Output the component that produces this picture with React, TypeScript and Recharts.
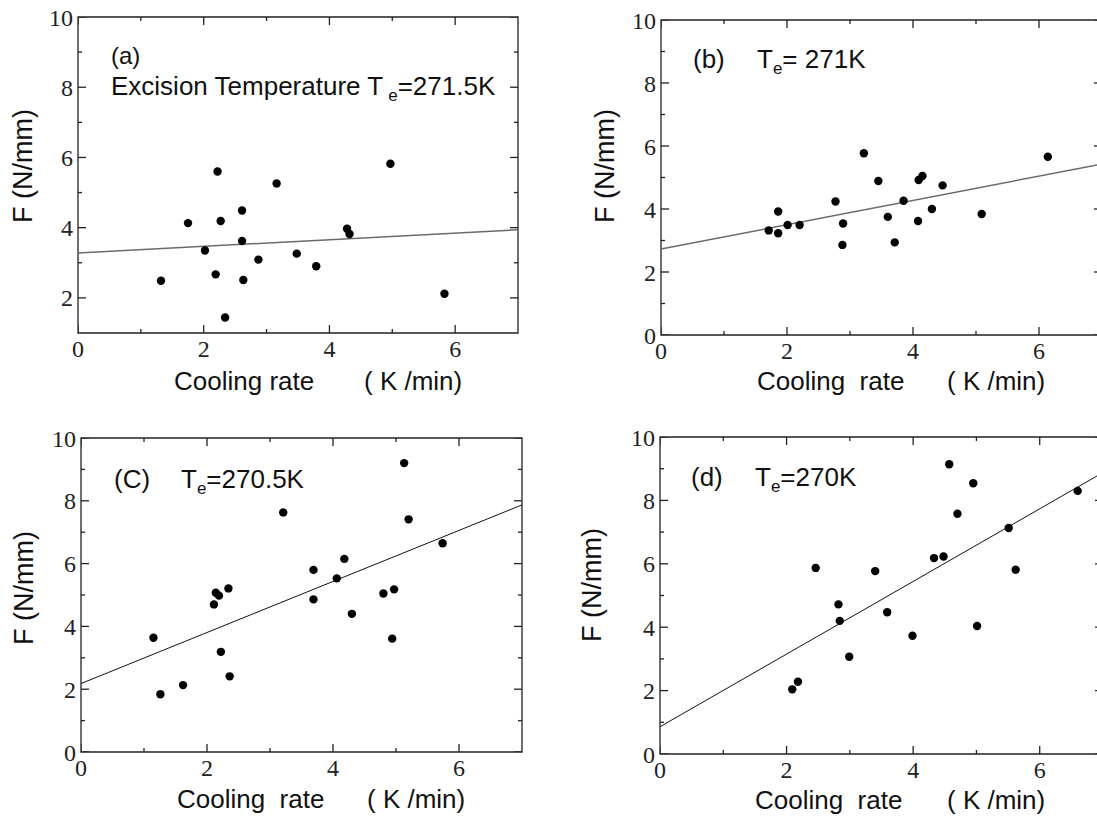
import React from 'react';
import { ScatterChart, Scatter, XAxis, YAxis, ReferenceArea } from 'recharts';

// ---------- data ----------
const xMajor = [0, 2, 4, 6];
const xMinor = [1, 3, 5];
const yMajorA = [2, 4, 6, 8, 10];
const yMajor = [0, 2, 4, 6, 8, 10];
const yMinor = [1, 3, 5, 7, 9];

const pointsA = [
  { x: 1.32, y: 2.49 }, { x: 1.75, y: 4.13 }, { x: 2.02, y: 3.35 }, { x: 2.19, y: 2.67 },
  { x: 2.22, y: 5.6 }, { x: 2.27, y: 4.19 }, { x: 2.34, y: 1.44 }, { x: 2.61, y: 4.49 },
  { x: 2.61, y: 3.62 }, { x: 2.63, y: 2.51 }, { x: 2.87, y: 3.09 }, { x: 3.16, y: 5.26 },
  { x: 3.48, y: 3.26 }, { x: 3.79, y: 2.9 }, { x: 4.28, y: 3.97 }, { x: 4.32, y: 3.82 },
  { x: 4.97, y: 5.82 }, { x: 5.83, y: 2.12 },
];
const fitA = [{ x: 0, y: 3.28 }, { x: 7, y: 3.94 }];

const pointsB = [
  { x: 1.71, y: 3.32 }, { x: 1.86, y: 3.92 }, { x: 1.86, y: 3.23 }, { x: 2.01, y: 3.49 },
  { x: 2.2, y: 3.49 }, { x: 2.77, y: 4.24 }, { x: 2.88, y: 2.86 }, { x: 2.89, y: 3.54 },
  { x: 3.22, y: 5.77 }, { x: 3.45, y: 4.89 }, { x: 3.6, y: 3.75 }, { x: 3.71, y: 2.94 },
  { x: 3.85, y: 4.26 }, { x: 4.08, y: 3.62 }, { x: 4.09, y: 4.92 }, { x: 4.15, y: 5.05 },
  { x: 4.3, y: 4.0 }, { x: 4.47, y: 4.75 }, { x: 5.09, y: 3.84 }, { x: 6.14, y: 5.66 },
];
const fitB = [{ x: 0, y: 2.73 }, { x: 7, y: 5.43 }];

const pointsC = [
  { x: 1.15, y: 3.64 }, { x: 1.26, y: 1.84 }, { x: 1.62, y: 2.13 }, { x: 2.11, y: 4.7 },
  { x: 2.14, y: 5.07 }, { x: 2.19, y: 4.98 }, { x: 2.22, y: 3.19 }, { x: 2.34, y: 5.21 },
  { x: 2.36, y: 2.41 }, { x: 3.21, y: 7.63 }, { x: 3.69, y: 5.8 }, { x: 3.69, y: 4.86 },
  { x: 4.06, y: 5.53 }, { x: 4.18, y: 6.15 }, { x: 4.3, y: 4.4 }, { x: 4.8, y: 5.05 },
  { x: 4.94, y: 3.61 }, { x: 4.97, y: 5.18 }, { x: 5.13, y: 9.2 }, { x: 5.2, y: 7.41 },
  { x: 5.74, y: 6.65 },
];
const fitC = [{ x: 0, y: 2.18 }, { x: 7, y: 7.87 }];

const pointsD = [
  { x: 2.09, y: 2.04 }, { x: 2.18, y: 2.28 }, { x: 2.46, y: 5.87 }, { x: 2.82, y: 4.72 },
  { x: 2.84, y: 4.2 }, { x: 2.99, y: 3.07 }, { x: 3.4, y: 5.77 }, { x: 3.59, y: 4.47 },
  { x: 3.99, y: 3.73 }, { x: 4.33, y: 6.18 }, { x: 4.48, y: 6.23 }, { x: 4.57, y: 9.14 },
  { x: 4.7, y: 7.58 }, { x: 4.95, y: 8.54 }, { x: 5.01, y: 4.04 }, { x: 5.51, y: 7.13 },
  { x: 5.62, y: 5.81 }, { x: 6.6, y: 8.3 },
];
const fitD = [{ x: 0, y: 0.86 }, { x: 7, y: 8.88 }];

// ---------- styles ----------
const FRAME = '#222';
const SERIF = '"Liberation Serif", "Times New Roman", serif';
const SANS = '"Liberation Sans", Arial, sans-serif';
const TITLE_FONT = 26;
const NOTE_FONT = 26;
const tickText = { fontFamily: SERIF, fontSize: 24, fill: '#222' };
const MAJOR_PX = 8;
const MINOR_PX = 4;
const X_MAX = 7;
const Y_MAX = 10;

const Dot = (props: any) => <circle cx={props.cx} cy={props.cy} r={4.2} fill="#000" />;
const NoShape = () => <g />;

// inward tick mark drawn at an axis position given by the chart's scales
const makeTickShape = (dx: number, dy: number) => (props: any) => {
  const len = (props.payload && props.payload.len) || MAJOR_PX;
  const { cx, cy } = props;
  if (cx == null || cy == null) return <g />;
  return (
    <line x1={cx} y1={cy} x2={cx + dx * len} y2={cy + dy * len} stroke={FRAME} strokeWidth={1.3} />
  );
};
const tickUp = makeTickShape(0, -1);
const tickDown = makeTickShape(0, 1);
const tickRight = makeTickShape(1, 0);
const tickLeft = makeTickShape(-1, 0);

type PanelProps = {
  plotL: number; plotT: number; w: number; h: number;
  points: { x: number; y: number }[];
  fit: { x: number; y: number }[];
  yMin: number; yMajorList: number[];
  lineColor: string; lineWidth: number;
};

const AX_W = 80;
const AX_H = 80;
const PAD = 20;

function Panel(p: PanelProps) {
  const width = AX_W + p.w + PAD;
  const height = PAD + p.h + AX_H;
  const yMinorList = yMinor.filter((v) => v > p.yMin);
  const xSpecs = [
    ...xMajor.map((t) => ({ t, len: MAJOR_PX })),
    ...xMinor.map((t) => ({ t, len: MINOR_PX })),
  ];
  const ySpecs = [
    ...p.yMajorList.map((t) => ({ t, len: MAJOR_PX })),
    ...yMinorList.map((t) => ({ t, len: MINOR_PX })),
  ];
  const bottomTicks = xSpecs.map(({ t, len }) => ({ x: t, y: p.yMin, len }));
  const topTicks = xSpecs.map(({ t, len }) => ({ x: t, y: Y_MAX, len }));
  const leftTicks = ySpecs.map(({ t, len }) => ({ x: 0, y: t, len }));
  const rightTicks = ySpecs.map(({ t, len }) => ({ x: X_MAX, y: t, len }));
  return (
    <div style={{ position: 'absolute', left: p.plotL - AX_W, top: p.plotT - PAD, width, height }}>
      <ScatterChart width={width} height={height} margin={{ top: PAD, right: PAD, bottom: 0, left: 0 }}>
        <XAxis
          type="number" dataKey="x" domain={[0, X_MAX]} ticks={xMajor} interval={0}
          height={AX_H} tickSize={0} tickMargin={7} tickLine={false} axisLine={false}
          tick={tickText} allowDataOverflow
        />
        <YAxis
          type="number" dataKey="y" domain={[p.yMin, Y_MAX]} ticks={p.yMajorList} interval={0}
          width={AX_W} tickSize={0} tickMargin={5} tickLine={false} axisLine={false}
          tick={tickText} allowDataOverflow
        />
        <ReferenceArea x1={0} x2={X_MAX} y1={p.yMin} y2={Y_MAX} fill="none" fillOpacity={0}
          stroke={FRAME} strokeWidth={1.3} ifOverflow="visible" />
        <Scatter data={bottomTicks} shape={tickUp} isAnimationActive={false} />
        <Scatter data={topTicks} shape={tickDown} isAnimationActive={false} />
        <Scatter data={leftTicks} shape={tickRight} isAnimationActive={false} />
        <Scatter data={rightTicks} shape={tickLeft} isAnimationActive={false} />
        <Scatter data={p.fit} line={{ stroke: p.lineColor, strokeWidth: p.lineWidth }}
          shape={NoShape} isAnimationActive={false} />
        <Scatter data={p.points} shape={Dot} isAnimationActive={false} />
      </ScatterChart>
    </div>
  );
}

const textStyle: React.CSSProperties = { whiteSpace: 'pre' };

function XTitle({ x1, x2, y, gap2 }: { x1: number; x2: number; y: number; gap2?: boolean }) {
  return (
    <g>
      <text x={x1} y={y} fontFamily={SANS} fontSize={TITLE_FONT} fill="#111" style={textStyle}>
        {gap2 ? 'Cooling  rate' : 'Cooling rate'}
      </text>
      <text x={x2} y={y} fontFamily={SANS} fontSize={TITLE_FONT} fill="#111" style={textStyle}>
        ( K /min)
      </text>
    </g>
  );
}

function YTitle({ cx, cy }: { cx: number; cy: number }) {
  return (
    <text
      x={cx} y={cy} fontFamily={SANS} fontSize={27} fill="#111"
      textAnchor="middle" dominantBaseline="central"
      transform={`rotate(-90 ${cx} ${cy})`}
    >
      F (N/mm)
    </text>
  );
}

export default function App() {
  return (
    <div style={{ position: 'fixed', left: 0, top: 0, width: 1097, height: 819, overflow: 'hidden', background: '#fff' }}>
      <Panel plotL={78} plotT={17} w={440} h={316} points={pointsA} fit={fitA} yMin={1} yMajorList={yMajorA} lineColor="#6a6a6a" lineWidth={1.5} />
      <Panel plotL={661} plotT={20} w={441} h={315} points={pointsB} fit={fitB} yMin={0} yMajorList={yMajor} lineColor="#6a6a6a" lineWidth={1.5} />
      <Panel plotL={81} plotT={438} w={441} h={314} points={pointsC} fit={fitC} yMin={0} yMajorList={yMajor} lineColor="#111" lineWidth={1} />
      <Panel plotL={660} plotT={437} w={443} h={317} points={pointsD} fit={fitD} yMin={0} yMajorList={yMajor} lineColor="#111" lineWidth={1} />

      <svg width={1097} height={819} style={{ position: 'absolute', left: 0, top: 0, pointerEvents: 'none' }}>
        {/* panel a */}
        <text x={111} y={64} fontFamily={SANS} fontSize={24} fill="#111">(a)</text>
        <text x={111} y={95} fontFamily={SANS} fontSize={NOTE_FONT} fill="#111" style={textStyle}>
          Excision Temperature T
          <tspan dx={5} dy={6} fontSize={17}>e</tspan>
          <tspan dy={-6}>=271.5K</tspan>
        </text>
        <YTitle cx={23} cy={166} />
        <XTitle x1={174} x2={364} y={390} />

        {/* panel b */}
        <text x={693} y={68} fontFamily={SANS} fontSize={NOTE_FONT} fill="#111">(b)</text>
        <text x={757} y={68} fontFamily={SANS} fontSize={NOTE_FONT} fill="#111" style={textStyle}>
          T<tspan dy={6} fontSize={17}>e</tspan>
          <tspan dy={-6}>= 271K</tspan>
        </text>
        <YTitle cx={605} cy={166} />
        <XTitle x1={757} x2={947} y={390} gap2 />

        {/* panel c */}
        <text x={114} y={488} fontFamily={SANS} fontSize={NOTE_FONT} fill="#111">(C)</text>
        <text x={181} y={488} fontFamily={SANS} fontSize={NOTE_FONT} fill="#111" style={textStyle}>
          T<tspan dy={6} fontSize={17}>e</tspan>
          <tspan dy={-6}>=270.5K</tspan>
        </text>
        <YTitle cx={24} cy={588} />
        <XTitle x1={177} x2={367} y={808} gap2 />

        {/* panel d */}
        <text x={691} y={486} fontFamily={SANS} fontSize={NOTE_FONT} fill="#111">(d)</text>
        <text x={755} y={486} fontFamily={SANS} fontSize={NOTE_FONT} fill="#111" style={textStyle}>
          T<tspan dy={6} fontSize={17}>e</tspan>
          <tspan dy={-6}>=270K</tspan>
        </text>
        <YTitle cx={592} cy={585} />
        <XTitle x1={755} x2={947} y={809} gap2 />
      </svg>
    </div>
  );
}
